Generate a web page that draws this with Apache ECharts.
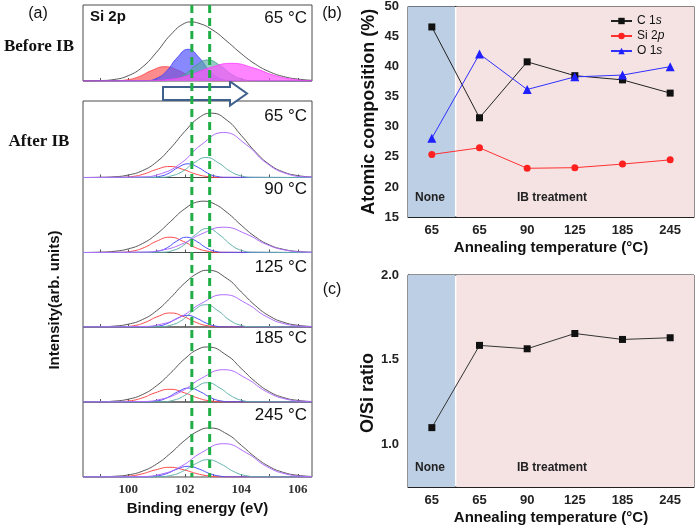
<!DOCTYPE html>
<html><head><meta charset="utf-8">
<script src="https://cdn.jsdelivr.net/npm/echarts@6/dist/echarts.min.js"></script>
<style>html,body{margin:0;padding:0;background:#fff}#c{width:700px;height:526px}</style>
</head><body><div id="c"></div>
<script>
// ===== Panel (a): Si 2p spectra, binding energy (eV) vs intensity (px-scaled) =====
const energyTicks = [99, 100, 101, 102, 103, 104, 105, 106];
const energyLabels = [100, 102, 104, 106];
const refEnergies = [102.25, 102.88];
const panelTemps = ['65 °C', '65 °C', '90 °C', '125 °C', '185 °C', '245 °C'];

// Before IB (65 °C)
const beforeEnvelope = [[98.4,0],[98.5,0.1],[99,0.4],[99.5,1.5],[100,5.3],[100.5,13.9],[101,28.7],[101.5,46.2],[102,57.8],[102.2,59],[102.5,57.7],[103,50.7],[103.5,39.5],[104,27.3],[104.5,16.8],[105,9.2],[105.5,4.4],[106,1.9],[106.5,0.7]];
const beforeRed = [[98.4,0],[99.5,0.2],[99.98,1.3],[100.4,4.6],[100.82,10.4],[101.3,14.3],[101.78,10.4],[102.2,4.6],[102.62,1.3],[103.1,0.2],[106.5,0]];
const beforeBlue = [[98.4,0],[100.62,0.4],[101.02,2.8],[101.37,10.3],[101.72,23],[102.12,31.7],[102.52,23],[102.87,10.3],[103.22,2.8],[103.62,0.4],[106.5,0]];
const beforeTeal = [[98.4,0],[101.17,0.2],[101.61,1.9],[102.0,6.8],[102.38,15.3],[102.82,21],[103.26,15.3],[103.65,6.8],[104.03,1.9],[104.47,0.2],[106.5,0]];
const beforeMagenta = [[98.4,0],[100.65,0.2],[101.45,1.6],[102.15,5.8],[102.85,12.9],[103.65,17.7],[104.45,12.9],[105.15,5.8],[105.85,1.6],[106.5,0.3]];

// After IB 65 °C
const after65Envelope = [[98.4,0],[99,0.2],[99.5,0.7],[100,2.5],[100.5,6.8],[101,15.5],[101.5,29.4],[102,46],[102.5,59.8],[102.94,64.3],[103.5,57.1],[104,42],[104.5,25.6],[105,12.9],[105.5,5.4],[106,1.9],[106.5,0.5]];
const after65Red = [[98.4,0],[99.67,0.1],[100.15,1],[100.57,3.6],[100.99,8],[101.47,11],[101.95,8],[102.37,3.6],[102.79,1],[103.27,0.1],[106.5,0]];
const after65Blue = [[98.4,0],[100.77,0.2],[101.13,1.2],[101.45,4.5],[101.76,10],[102.12,13.7],[102.48,10],[102.8,4.5],[103.11,1.2],[103.47,0.2],[106.5,0]];
const after65Teal = [[98.4,0],[101.11,0.2],[101.55,1.8],[101.94,6.5],[102.32,14.5],[102.76,20],[103.2,14.5],[103.59,6.5],[103.97,1.8],[104.41,0.2],[106.5,0]];
const after65Violet = [[98.4,0],[100.38,0.5],[101.18,4],[101.88,14.6],[102.58,32.7],[103.38,45],[104.18,32.7],[104.88,14.6],[105.58,4],[106.38,0.5],[106.5,0.4]];

// After IB 90 °C
const after90Envelope = [[98.4,0],[99,0.3],[99.5,1.2],[100,3.6],[100.5,8.9],[101,18.3],[101.5,31.1],[102,43.7],[102.5,50.9],[102.65,51.3],[103,49.2],[103.5,39.9],[104,27.2],[104.5,15.6],[105,7.5],[105.5,3.1],[106,1],[106.5,0.3]];
const after90Red = [[98.4,0],[99.67,0.2],[100.15,1.4],[100.57,5],[100.99,11.1],[101.47,15.3],[101.95,11.1],[102.37,5],[102.79,1.4],[103.27,0.2],[106.5,0]];
const after90Blue = [[98.4,0],[100.71,0.2],[101.07,1.4],[101.39,5],[101.7,11.1],[102.06,15.3],[102.42,11.1],[102.74,5],[103.05,1.4],[103.41,0.2],[106.5,0]];
const after90Teal = [[98.4,0],[101.15,0.3],[101.59,2.1],[101.98,7.8],[102.36,17.4],[102.8,24],[103.24,17.4],[103.63,7.8],[104.01,2.1],[104.45,0.3],[106.5,0]];
const after90Violet = [[98.4,0],[100.38,0.3],[101.18,2.3],[101.88,8.2],[102.58,18.4],[103.38,25.3],[104.18,18.4],[104.88,8.2],[105.58,2.3],[106.38,0.3],[106.5,0.2]];

// After IB 125 °C
const after125Envelope = [[98.4,0],[99,0.2],[99.5,0.9],[100,2.8],[100.5,7.4],[101,16.2],[101.5,29.3],[102,44],[102.5,54.5],[102.82,56.7],[103.5,48.3],[104,35],[104.5,21.3],[105,10.9],[105.5,4.7],[106,1.7],[106.5,0.5]];
const after125Red = [[98.4,0],[99.7,0.2],[100.18,1.2],[100.6,4.6],[101.02,10.2],[101.5,14],[101.98,10.2],[102.4,4.6],[102.82,1.2],[103.3,0.2],[106.5,0]];
const after125Blue = [[98.4,0],[100.73,0.1],[101.09,1],[101.41,3.8],[101.72,8.5],[102.08,11.7],[102.44,8.5],[102.76,3.8],[103.07,1],[103.43,0.1],[106.5,0]];
const after125Teal = [[98.4,0],[101.09,0.3],[101.53,2],[101.92,7.2],[102.3,16.2],[102.74,22.3],[103.18,16.2],[103.57,7.2],[103.95,2],[104.39,0.3],[106.5,0]];
const after125Violet = [[98.4,0],[100.38,0.4],[101.18,2.9],[101.88,10.5],[102.58,23.5],[103.38,32.3],[104.18,23.5],[104.88,10.5],[105.58,2.9],[106.38,0.4],[106.5,0.3]];

// After IB 185 °C
const after185Envelope = [[98.4,0],[99,0.2],[99.5,0.9],[100,2.8],[100.5,7.4],[101,16.2],[101.5,29],[102,43.2],[102.5,53.2],[102.8,55],[103.5,46.4],[104,33.4],[104.5,20.2],[105,10.2],[105.5,4.4],[106,1.6],[106.5,0.5]];
const after185Red = [[98.4,0],[99.52,0.1],[100.04,1.1],[100.5,4.1],[100.95,9.2],[101.47,12.7],[101.99,9.2],[102.45,4.1],[102.9,1.1],[103.42,0.1],[106.5,0]];
const after185Blue = [[98.4,0],[100.65,0.2],[101.05,1.2],[101.4,4.6],[101.75,10.2],[102.15,14],[102.55,10.2],[102.9,4.6],[103.25,1.2],[103.65,0.2],[106.5,0]];
const after185Teal = [[98.4,0],[101.15,0.2],[101.59,1.7],[101.98,6.3],[102.36,14],[102.8,19.3],[103.24,14],[103.63,6.3],[104.01,1.7],[104.45,0.2],[106.5,0]];
const after185Violet = [[98.4,0],[100.38,0.4],[101.18,2.9],[101.88,10.5],[102.58,23.5],[103.38,32.3],[104.18,23.5],[104.88,10.5],[105.58,2.9],[106.38,0.4],[106.5,0.3]];

// After IB 245 °C
const after245Envelope = [[98.4,0],[99,0.2],[99.5,0.7],[100,2.1],[100.5,5.8],[101,12.9],[101.5,23.8],[102,36.6],[102.5,46.4],[102.88,49],[103.5,42.9],[104,31.7],[104.5,19.7],[105,10.3],[105.5,4.5],[106,1.7],[106.5,0.5]];
const after245Red = [[98.4,0],[99.52,0.1],[100.04,0.9],[100.5,3.2],[100.95,7],[101.47,9.7],[101.99,7],[102.45,3.2],[102.9,0.9],[103.42,0.1],[106.5,0]];
const after245Blue = [[98.4,0],[100.62,0.1],[101.02,1],[101.37,3.5],[101.72,7.8],[102.12,10.7],[102.52,7.8],[102.87,3.5],[103.22,1],[103.62,0.1],[106.5,0]];
const after245Teal = [[98.4,0],[101.02,0.2],[101.5,1.5],[101.92,5.6],[102.34,12.6],[102.82,17.3],[103.3,12.6],[103.72,5.6],[104.14,1.5],[104.62,0.2],[106.5,0]];
const after245Violet = [[98.4,0],[100.38,0.4],[101.18,3],[101.88,10.8],[102.58,24.2],[103.38,33.3],[104.18,24.2],[104.88,10.8],[105.58,3],[106.38,0.4],[106.5,0.3]];

// ===== Panels (b), (c) =====
const temps = ['65', '65', '90', '125', '185', '245'];
const c1s = [46.6, 31.5, 40.8, 38.5, 37.8, 35.6];
const si2p = [25.4, 26.5, 23.1, 23.2, 23.8, 24.5];
const o1s = [28.1, 42.1, 36.2, 38.3, 38.6, 40.0];
const oSiRatio = [1.10, 1.585, 1.565, 1.655, 1.62, 1.63];
const ratioLabels = [1.0, 1.5, 2.0];
const noneSpan = [0, 0.985];
const ibSpan = [1.015, 6];

// ===== layout / style =====
const SANS = 'Liberation Sans, Arial, sans-serif';
const SERIF = 'Liberation Serif, Times New Roman, serif';
const A_LEFT = 83, A_WIDTH = 229;
const aLayout = [[5,76],[101,76.5],[177.5,75],[252.5,74.5],[327,75],[402,75]];
const tempLabelY = [18,116,189,267,338,415];
const E_MIN = 98.4, E_MAX = 106.5;

const aPanels = [
  [beforeEnvelope, beforeRed, beforeBlue, beforeTeal, beforeMagenta],
  [after65Envelope, after65Red, after65Blue, after65Teal, after65Violet],
  [after90Envelope, after90Red, after90Blue, after90Teal, after90Violet],
  [after125Envelope, after125Red, after125Blue, after125Teal, after125Violet],
  [after185Envelope, after185Red, after185Blue, after185Teal, after185Violet],
  [after245Envelope, after245Red, after245Blue, after245Teal, after245Violet]
];
const lineColors = ['#555555', '#ff4848', '#5050ff', '#5fb0aa', '#b06cff'];
const fillLine = ['#555555', '#ff3b3b', '#3b3bff', '#3f9c92', '#ff3cff'];
const fillColors = [null, 'rgba(255,70,70,0.62)', 'rgba(80,80,255,0.68)', 'rgba(85,170,160,0.62)', 'rgba(255,85,255,0.72)'];

const grids = [], xAxes = [], yAxes = [], series = [];

aLayout.forEach(([top, h], i) => {
  const last = i === aLayout.length - 1;
  grids.push({left: A_LEFT, top: top, width: A_WIDTH, height: h, show: true, borderColor: '#4a4a4a', borderWidth: 1});
  xAxes.push({
    type: 'value', gridIndex: i, min: E_MIN, max: E_MAX,
    axisLine: {show: false}, splitLine: {show: false},
    axisTick: {show: true, inside: true, length: 3, customValues: energyTicks, lineStyle: {color: '#555'}},
    axisLabel: {show: last, customValues: energyLabels, fontFamily: SERIF, fontWeight: 'bold', fontSize: 13, color: '#333', margin: 6},
    name: last ? 'Binding energy (eV)' : '', nameLocation: 'middle', nameGap: 24,
    nameTextStyle: {fontFamily: SANS, fontWeight: 'bold', fontSize: 15, color: '#111'}
  });
  yAxes.push({type: 'value', gridIndex: i, min: 0, max: h, show: false});
  aPanels[i].forEach((d, k) => {
    const filled = i === 0 && k > 0;
    series.push({
      type: 'line', xAxisIndex: i, yAxisIndex: i, data: d, smooth: 0.5,
      symbol: 'none', silent: true, z: 3 + k,
      lineStyle: {color: filled ? fillLine[k] : lineColors[k], width: filled ? 0.8 : 1},
      areaStyle: filled ? {color: fillColors[k], opacity: 1} : undefined
    });
  });
});

// overlay grid for the vertical reference lines
const OV = aLayout.length;
grids.push({left: A_LEFT, top: 5, width: A_WIDTH, height: 472, show: false});
xAxes.push({type: 'value', gridIndex: OV, min: E_MIN, max: E_MAX, show: false});
yAxes.push({type: 'value', gridIndex: OV, min: 0, max: 1, show: false});
refEnergies.forEach(e => {
  series.push({type: 'line', xAxisIndex: OV, yAxisIndex: OV, data: [[e, 1], [e, 0]], symbol: 'none', silent: true, z: 10,
    lineStyle: {color: '#1fae45', width: 3, type: [8, 5]}});
});

// (b) and (c)
const GB = OV + 1, GC = OV + 2;
const axisLabelStyle = {fontFamily: SANS, fontWeight: 'bold', fontSize: 13, color: '#222'};
const nameStyle15 = {fontFamily: SANS, fontWeight: 'bold', fontSize: 15, color: '#111'};
const nameStyle18 = {fontFamily: SANS, fontWeight: 'bold', fontSize: 18, color: '#111'};
grids.push({left: 408, top: 5, width: 286, height: 212, show: true, borderColor: '#222', borderWidth: 1});
grids.push({left: 408, top: 275, width: 286, height: 212, show: true, borderColor: '#222', borderWidth: 1});

const XB = xAxes.length;
xAxes.push({type: 'category', gridIndex: GB, data: temps, boundaryGap: true,
  axisLine: {lineStyle: {color: '#222'}}, axisTick: {show: false},
  axisLabel: Object.assign({margin: 7}, axisLabelStyle),
  name: 'Annealing temperature (°C)', nameLocation: 'middle', nameGap: 23, nameTextStyle: nameStyle15});
xAxes.push({type: 'value', gridIndex: GB, min: 0, max: 6, show: false});
xAxes.push({type: 'category', gridIndex: GC, data: temps, boundaryGap: true,
  axisLine: {lineStyle: {color: '#222'}}, axisTick: {show: false},
  axisLabel: Object.assign({margin: 7}, axisLabelStyle),
  name: 'Annealing temperature (°C)', nameLocation: 'middle', nameGap: 23, nameTextStyle: nameStyle15});
xAxes.push({type: 'value', gridIndex: GC, min: 0, max: 6, show: false});

const YB = yAxes.length;
yAxes.push({type: 'value', gridIndex: GB, min: 15, max: 50, interval: 5,
  axisLine: {show: true, lineStyle: {color: '#222'}}, splitLine: {show: false},
  axisTick: {show: true, inside: true, length: 4, lineStyle: {color: '#222'}},
  axisLabel: Object.assign({margin: 9}, axisLabelStyle),
  name: 'Atomic composition (%)', nameLocation: 'middle', nameGap: 30, nameTextStyle: nameStyle18});
yAxes.push({type: 'value', gridIndex: GC, min: 0.75, max: 2.0, interval: 0.25,
  axisLine: {show: true, lineStyle: {color: '#222'}}, splitLine: {show: false},
  axisTick: {show: true, inside: true, length: 4, lineStyle: {color: '#222'}},
  axisLabel: Object.assign({margin: 9, formatter: v => ratioLabels.some(t => Math.abs(t - v) < 1e-6) ? v.toFixed(1) : ''}, axisLabelStyle)});

function shade(xIdx, yIdx) {
  return {type: 'line', xAxisIndex: xIdx, yAxisIndex: yIdx, data: [], silent: true, z: 1,
    markArea: {silent: true, data: [
      [{xAxis: noneSpan[0], itemStyle: {color: '#bdcfe4', opacity: 1}}, {xAxis: noneSpan[1]}],
      [{xAxis: ibSpan[0], itemStyle: {color: '#f5e3e3', opacity: 1}}, {xAxis: ibSpan[1]}]
    ]}};
}
series.push(shade(XB + 1, YB));
series.push(shade(XB + 3, YB + 1));

series.push({name: 'C 1s', type: 'line', xAxisIndex: XB, yAxisIndex: YB, data: c1s, symbol: 'rect', symbolSize: 7,
  lineStyle: {color: '#222', width: 1}, itemStyle: {color: '#111'}, z: 5});
series.push({name: 'Si 2p', type: 'line', xAxisIndex: XB, yAxisIndex: YB, data: si2p, symbol: 'circle', symbolSize: 7,
  lineStyle: {color: '#ff3030', width: 1}, itemStyle: {color: '#ff2020'}, z: 5});
series.push({name: 'O 1s', type: 'line', xAxisIndex: XB, yAxisIndex: YB, data: o1s, symbol: 'triangle', symbolSize: 9,
  lineStyle: {color: '#3030ff', width: 1}, itemStyle: {color: '#1f1fff'}, z: 5});
series.push({name: 'O/Si', type: 'line', xAxisIndex: XB + 2, yAxisIndex: YB + 1, data: oSiRatio, symbol: 'rect', symbolSize: 7,
  lineStyle: {color: '#333', width: 1}, itemStyle: {color: '#111'}, z: 5});

// graphic texts
const txt = (text, x, y, o) => Object.assign({type: 'text', x: x, y: y, z: 20, silent: true,
  style: Object.assign({text: text, fill: '#111', align: 'center', verticalAlign: 'middle', fontFamily: SANS, fontSize: 16}, o && o.style)}, o && o.el);
const graphics = [
  {type: 'polygon', z: 1, silent: true, shape: {points: [[163,87],[230,87],[230,81.5],[247,93.5],[230,105.5],[230,100],[163,100]]},
    style: {fill: '#fff', stroke: '#3f5f8c', lineWidth: 2}},
  txt('(a)', 38, 14), txt('(b)', 332, 14), txt('(c)', 332, 290),
  txt('Before IB', 39, 47, {style: {fontFamily: SERIF, fontWeight: 'bold', fontSize: 17}}),
  txt('After IB', 39, 142, {style: {fontFamily: SERIF, fontWeight: 'bold', fontSize: 17}}),
  txt('Intensity(arb. units)', 55, 300, {style: {fontWeight: 'bold', fontSize: 15}, el: {rotation: Math.PI / 2}}),
  txt('O/Si ratio', 368, 393, {style: {fontWeight: 'bold', fontSize: 18}, el: {rotation: Math.PI / 2}}),
  txt('Si 2p', 90, 17, {style: {fontWeight: 'bold', fontSize: 15, align: 'left'}}),
  txt('None', 430, 198, {style: {fontWeight: 'bold', fontSize: 12, fill: '#222'}}),
  txt('IB treatment', 552, 198, {style: {fontWeight: 'bold', fontSize: 12, fill: '#222'}}),
  txt('None', 430, 468, {style: {fontWeight: 'bold', fontSize: 12, fill: '#222'}}),
  txt('IB treatment', 552, 468, {style: {fontWeight: 'bold', fontSize: 12, fill: '#222'}})
];
panelTemps.forEach((t, i) => graphics.push(txt(t, 307, tempLabelY[i], {style: {fontSize: 17, align: 'right'}})));

const chart = echarts.init(document.getElementById('c'), null, {renderer: 'canvas', width: 700, height: 526});
chart.setOption({
  animation: false,
  backgroundColor: '#fff',
  grid: grids, xAxis: xAxes, yAxis: yAxes, series: series,
  legend: {data: ['C 1s', 'Si 2p', 'O 1s'], orient: 'vertical', left: 605, top: 10, itemWidth: 21, itemHeight: 8, itemGap: 3,
    selectedMode: false,
    formatter: name => { const m = name.match(/^(.*\d)(\w)$/); return '{n|' + m[1] + '}{i|' + m[2] + '}'; },
    textStyle: {rich: {n: {fontFamily: SANS, fontSize: 12, color: '#111'}, i: {fontFamily: SANS, fontSize: 12, fontStyle: 'italic', color: '#111'}}}},
  graphic: graphics
});
</script></body></html>
